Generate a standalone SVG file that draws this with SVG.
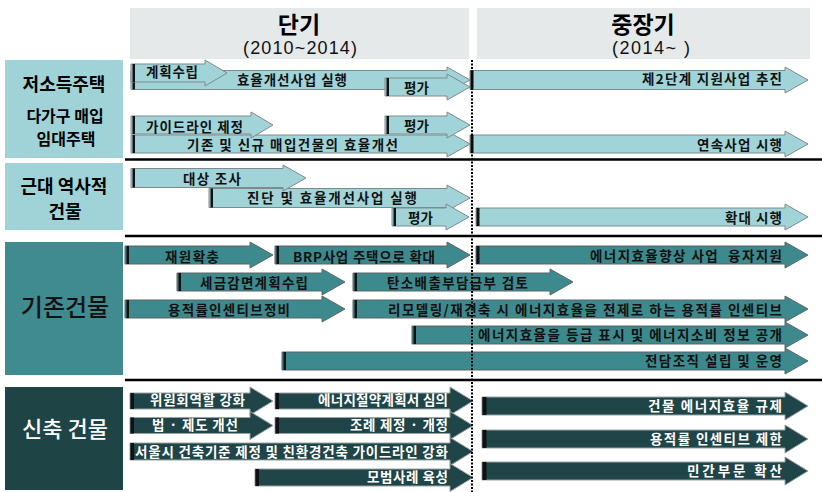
<svg xmlns="http://www.w3.org/2000/svg" width="822" height="492" viewBox="0 0 822 492">
<style>
.hdr{fill:#e6e9ea}
.lab{font-family:"Noto Sans CJK KR","Noto Sans",sans-serif;text-anchor:middle}
.yr{font-family:"Liberation Sans",Arial,sans-serif;font-size:18px;fill:#111}
.a1{fill:#a1d4d8;stroke:#7f8a8b;stroke-width:1}
.a3{fill:#3d8a8e;stroke:#5c6566;stroke-width:1}
.a4{fill:#1f4548;stroke:#9aa3a3;stroke-width:1}
.bar{fill:#111}
.t{font-family:"Noto Sans CJK KR","Noto Sans",sans-serif;font-size:13.5px;font-weight:700;fill:#111}
.w{fill:#fff}
.sep{stroke:#000;stroke-width:2.5}
.dot{stroke:#000;stroke-width:2;stroke-dasharray:2 1.5}
</style>

<g id="header">
<rect class="hdr" x="130" y="8" width="339" height="51"/>
<rect class="hdr" x="477" y="8" width="333" height="51"/>
<text class="lab" x="299" y="33" font-size="23" font-weight="700">단기</text>
<text class="yr" x="243" y="54" textLength="114">(2010~2014)</text>
<text class="lab" x="643" y="33" font-size="23" font-weight="700">중장기</text>
<text class="yr" x="612" y="54" textLength="78">(2014~ )</text>
</g>

<g id="label-low-income">
<rect x="5" y="60" width="118" height="98" fill="#9fd3d7"/>
<text class="lab" x="64" y="91" font-size="18" font-weight="700">저소득주택</text>
<text class="lab" x="65" y="122" font-size="16" font-weight="700">다가구 매입</text>
<text class="lab" x="66" y="145" font-size="16" font-weight="700">임대주택</text>
</g>
<g id="label-historic">
<rect x="5" y="163" width="118" height="67" fill="#9fd3d7"/>
<text class="lab" x="64" y="193" font-size="18" font-weight="700">근대 역사적</text>
<text class="lab" x="65" y="218" font-size="18" font-weight="700">건물</text>
</g>
<g id="label-existing">
<rect x="5" y="242" width="118" height="133" fill="#3f8b90"/>
<text class="lab" x="65" y="316" font-size="24" font-weight="500" fill="#111">기존건물</text>
</g>
<g id="label-new">
<rect x="5" y="387" width="118" height="103" fill="#1f4446"/>
<text class="lab" x="65" y="437" font-size="22" font-weight="500" fill="#fff">신축 건물</text>
</g>

<g id="separators">
<line class="sep" x1="125" y1="159.5" x2="822" y2="159.5"/>
<line class="sep" x1="125" y1="236" x2="822" y2="236"/>
<line class="sep" x1="125" y1="380" x2="822" y2="380"/>
</g>

<g id="connectors">
<!-- group 1 row 1 -->
<g id="a2"><path class="a1" d="M131,70.5 H447 V67 L470,80 L447,93 V89.5 H131 Z"/><rect class="bar" x="132.5" y="70.5" width="2.5" height="19"/></g>
<g id="a1"><path class="a1" d="M131,64 H205 V60 L227,73 L205,86 V82 H131 Z"/><rect class="bar" x="132.5" y="64" width="2.5" height="18"/></g>
<text class="t" x="146" y="77" textLength="52">계획수립</text>
<text class="t" x="237" y="85" textLength="110">효율개선사업 실행</text>
<g id="a3"><path class="a1" d="M385,78 H447 V74 L470,87 L447,100 V96 H385 Z"/><rect class="bar" x="386.5" y="78" width="2.5" height="18"/><text class="t" x="404" y="93">평가</text></g>
<g id="a4"><path class="a1" d="M470,70.5 H785 V67 L808,80 L785,93 V89.5 H470 Z"/><rect class="bar" x="470.5" y="70.5" width="3" height="19"/><text class="t" x="642" y="84" textLength="140">제2단계 지원사업 추진</text></g>
<!-- group 1 row 2 -->
<g id="a7"><path class="a1" d="M131,135 H447 V131 L470,144 L447,157 V153 H131 Z"/><rect class="bar" x="132.5" y="135" width="2.5" height="18"/><text class="t" x="187" y="150" textLength="211">기존 및 신규 매입건물의 효율개선</text></g>
<g id="a5"><path class="a1" d="M131,116 H251 V112 L273,125 L251,138 V134 H131 Z"/><rect class="bar" x="132.5" y="116" width="2.5" height="18"/><text class="t" x="146" y="132" textLength="97">가이드라인 제정</text></g>
<g id="a6"><path class="a1" d="M385,116 H447 V112 L470,125 L447,138 V134 H385 Z"/><rect class="bar" x="386.5" y="116" width="2.5" height="18"/><text class="t" x="404" y="131">평가</text></g>
<g id="a8"><path class="a1" d="M470,135 H785 V131 L808,144 L785,157 V153 H470 Z"/><rect class="bar" x="470.5" y="135" width="3" height="18"/><text class="t" x="697" y="150" textLength="85">연속사업 시행</text></g>
<!-- group 2 -->
<g id="b2"><path class="a1" d="M209,188.5 H447 V185 L470,198 L447,211 V207.5 H209 Z"/><rect class="bar" x="210.5" y="188.5" width="2.5" height="19"/><text class="t" x="247" y="203" textLength="170">진단 및 효율개선사업 실행</text></g>
<g id="b1"><path class="a1" d="M131,168.5 H283 V165 L306,178 L283,191 V187.5 H131 Z"/><rect class="bar" x="132.5" y="168.5" width="2.5" height="19"/><text class="t" x="183" y="184" textLength="58">대상 조사</text></g>
<g id="b3"><path class="a1" d="M392,208 H446 V204 L469,217 L446,230 V226 H392 Z"/><rect class="bar" x="393.5" y="208" width="2.5" height="18"/><text class="t" x="408" y="223">평가</text></g>
<g id="b4"><path class="a1" d="M476,208 H785 V204 L808,217 L785,230 V226 H476 Z"/><rect class="bar" x="476.5" y="208" width="3" height="18"/><text class="t" x="725" y="223" textLength="57">확대 시행</text></g>
<!-- group 3 -->
<g id="c1"><path class="a3" d="M125,246 H250 V242 L273,255 L250,268 V264 H125 Z"/><rect class="bar" x="126.5" y="246" width="2.5" height="18"/><text class="t" x="165" y="262" textLength="54">재원확충</text></g>
<g id="c2"><path class="a3" d="M275,246 H447 V242 L470,255 L447,268 V264 H275 Z"/><rect class="bar" x="276.5" y="246" width="2.5" height="18"/><text class="t" x="293" y="262" textLength="142">BRP사업 주택으로 확대</text></g>
<g id="c3"><path class="a3" d="M476,246 H785 V242 L808,255 L785,268 V264 H476 Z"/><rect class="bar" x="476.5" y="246" width="3" height="18"/><text class="t" x="590" y="261" textLength="192" style="white-space:pre">에너지효율향상 사업  융자지원</text></g>
<g id="c4"><path class="a3" d="M177,273 H322 V269 L345,282 L322,295 V291 H177 Z"/><rect class="bar" x="178.5" y="273" width="2.5" height="18"/><text class="t" x="200" y="288" textLength="108">세금감면계획수립</text></g>
<g id="c5"><path class="a3" d="M353,273 H550 V269 L573,282 L550,295 V291 H353 Z"/><rect class="bar" x="354.5" y="273" width="2.5" height="18"/><text class="t" x="387" y="288" textLength="141">탄소배출부담금부 검토</text></g>
<g id="c6"><path class="a3" d="M125,300 H322 V296 L345,309 L322,322 V318 H125 Z"/><rect class="bar" x="126.5" y="300" width="2.5" height="18"/><text class="t" x="168" y="315" textLength="122">용적률인센티브정비</text></g>
<g id="c7"><path class="a3" d="M353,300 H785 V296 L808,309 L785,322 V318 H353 Z"/><rect class="bar" x="354.5" y="300" width="2.5" height="18"/><text class="t" x="388" y="315" textLength="394">리모델링/재건축 시 에너지효율을 전제로 하는 용적률 인센티브</text></g>
<g id="c8"><path class="a3" d="M412,326 H785 V322 L808,335 L785,348 V344 H412 Z"/><rect class="bar" x="413.5" y="326" width="2.5" height="18"/><text class="t" x="478" y="340" textLength="304">에너지효율을 등급 표시 및 에너지소비 정보 공개</text></g>
<g id="c9"><path class="a3" d="M282,352 H785 V348 L808,361 L785,374 V370 H282 Z"/><rect class="bar" x="283.5" y="352" width="2.5" height="18"/><text class="t" x="645" y="366" textLength="137">전담조직 설립 및 운영</text></g>
<!-- group 4 -->
<g id="d1"><path class="a4" d="M130,393 H250 V387 L273,401 L250,415 V409 H130 Z"/><rect class="bar" x="130.5" y="393" width="3.5" height="16"/><text class="t w" x="150" y="405" textLength="95">위원회역할 강화</text></g>
<g id="d2"><path class="a4" d="M275,393 H450 V387 L473,401 L450,415 V409 H275 Z"/><rect class="bar" x="275.5" y="393" width="3.5" height="16"/><text class="t w" x="318" y="405" textLength="130">에너지절약계획서 심의</text></g>
<g id="d3"><path class="a4" d="M130,417.5 H250 V411.5 L273,425.5 L250,439.5 V433.5 H130 Z"/><rect class="bar" x="130.5" y="417.5" width="3.5" height="16"/><text class="t w" x="152" y="430" textLength="86">법 · 제도 개선</text></g>
<g id="d4"><path class="a4" d="M275,417.5 H450 V411.5 L473,425.5 L450,439.5 V433.5 H275 Z"/><rect class="bar" x="275.5" y="417.5" width="3.5" height="16"/><text class="t w" x="350" y="430" textLength="98">조례 제정 · 개정</text></g>
<g id="d5"><path class="a4" d="M130,443 H450 V437.5 L473,451.5 L450,465.5 V460 H130 Z"/><rect class="bar" x="130.5" y="443" width="3.5" height="17"/><text class="t w" x="135" y="457" textLength="313">서울시 건축기준 제정 및 친환경건축 가이드라인 강화</text></g>
<g id="d6"><path class="a4" d="M255,469 H450 V463.5 L473,477.5 L450,491.5 V486 H255 Z"/><rect class="bar" x="255.5" y="469" width="3.5" height="17"/><text class="t w" x="367" y="482" textLength="81">모범사례 육성</text></g>
<g id="d7"><path class="a4" d="M482,397 H785 V392 L808,406 L785,420 V415 H482 Z"/><rect class="bar" x="482.5" y="397" width="4" height="18"/><text class="t w" x="648" y="411" textLength="134">건물 에너지효율 규제</text></g>
<g id="d8"><path class="a4" d="M482,430 H785 V425 L808,439 L785,453 V448 H482 Z"/><rect class="bar" x="482.5" y="430" width="4" height="18"/><text class="t w" x="650" y="444" textLength="132">용적률 인센티브 제한</text></g>
<g id="d9"><path class="a4" d="M482,462 H785 V457 L808,471 L785,485 V480 H482 Z"/><rect class="bar" x="482.5" y="462" width="4" height="18"/><text class="t w" x="687" y="476" textLength="95">민간부문 확산</text></g>
<line class="dot" x1="472" y1="60" x2="472" y2="492"/>
</g>
</svg>
